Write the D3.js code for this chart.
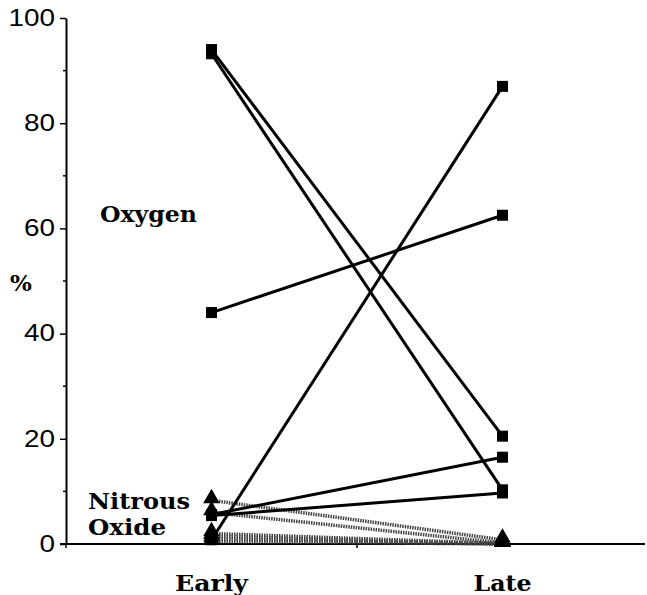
<!DOCTYPE html>
<html><head><meta charset="utf-8">
<script src="https://cdn.jsdelivr.net/npm/d3@7"></script>
<style>body{margin:0;background:#fff}svg{display:block}</style>
</head><body><svg id="c" width="647" height="595"></svg>
<script>
const categories = ["Early", "Late"];
const categoryPos = [1, 3];
const oxygenEarly = [94, 93.2, 44, 0.8, 5.6, 5.4];
const oxygenLate  = [20.5, 10.3, 62.5, 87, 16.5, 9.7];
const n2oEarly = [8.3, 6.0, 2.0, 1.5, 1.0, 0.5];
const n2oLate  = [0.8, 0.2, 0.1, 0, 0, 0];
const yTicks = [0, 20, 40, 60, 80, 100];
const yMinorTicks = [10, 30, 50, 70, 90];
const seriesLabels = {oxygen: "Oxygen", n2o: ["Nitrous", "Oxide"], y: "%"};

const svg = d3.select("#c");
const x = d3.scaleLinear().domain([0, 4]).range([66, 648]);
const y = d3.scaleLinear().domain([0, 100]).range([544, 18]);

// y axis
const yAxis = d3.axisLeft(y).tickValues(yTicks).tickSize(6).tickSizeOuter(0).tickPadding(5);
const gy = svg.append("g").attr("transform", `translate(${x(0)},0)`).call(yAxis);
gy.select(".domain").attr("stroke", "#000").attr("stroke-width", 2);
gy.selectAll(".tick line").attr("stroke", "#000").attr("stroke-width", 1.5);
gy.selectAll(".tick text").attr("font-family", "Liberation Sans, Arial, sans-serif").attr("font-size", 23)
  .attr("fill", "#000").attr("lengthAdjust", "spacingAndGlyphs")
  .attr("textLength", d => String(d).length * 15.5);
svg.append("g").selectAll("line").data(yMinorTicks).join("line")
  .attr("x1", x(0) - 3).attr("x2", x(0)).attr("y1", d => y(d)).attr("y2", d => y(d))
  .attr("stroke", "#000").attr("stroke-width", 1.5);

// x axis
svg.append("line").attr("x1", x(0) - 6).attr("x2", 645).attr("y1", y(0)).attr("y2", y(0))
  .attr("stroke", "#000").attr("stroke-width", 2);
svg.append("g").selectAll("line").data([2]).join("line")
  .attr("x1", d => x(d)).attr("x2", d => x(d)).attr("y1", y(0) - 3).attr("y2", y(0) + 4)
  .attr("stroke", "#000").attr("stroke-width", 1.5);
svg.append("line").attr("x1", x(0)).attr("x2", x(0)).attr("y1", y(0)).attr("y2", y(0) + 4)
  .attr("stroke", "#000").attr("stroke-width", 1.5);

const serif = "DejaVu Serif, serif";
const catW = [73, 58];
svg.append("g").selectAll("text").data(categories).join("text")
  .attr("x", (d, i) => x(categoryPos[i]) - catW[i] / 2).attr("y", 591)
  .attr("textLength", (d, i) => catW[i]).attr("lengthAdjust", "spacingAndGlyphs")
  .attr("font-family", serif).attr("font-weight", "bold").attr("font-size", 23).text(d => d);

// N2O lines (hatched grey)
const n2oG = svg.append("g");
n2oEarly.forEach((v, i) => {
  n2oG.append("line").attr("x1", x(categoryPos[0])).attr("y1", y(v))
    .attr("x2", x(categoryPos[1])).attr("y2", y(n2oLate[i]))
    .attr("stroke", "#444").attr("stroke-width", 3.5).attr("stroke-dasharray", "1.5,1");
});
// Oxygen lines
const oxG = svg.append("g");
oxygenEarly.forEach((v, i) => {
  oxG.append("line").attr("x1", x(categoryPos[0])).attr("y1", y(v))
    .attr("x2", x(categoryPos[1])).attr("y2", y(oxygenLate[i]))
    .attr("stroke", "#000").attr("stroke-width", 3);
});

// markers
const tri = d3.symbol().type(d3.symbolTriangle).size(120);
const tpts = [];
n2oEarly.forEach((v, i) => { tpts.push([categoryPos[0], v]); tpts.push([categoryPos[1], n2oLate[i]]); });
svg.append("g").selectAll("path").data(tpts).join("path")
  .attr("d", tri).attr("transform", d => `translate(${x(d[0])},${y(d[1]) - 2})`).attr("fill", "#000");
const sq = 11;
const pts = [];
oxygenEarly.forEach((v, i) => { pts.push([categoryPos[0], v]); pts.push([categoryPos[1], oxygenLate[i]]); });
svg.append("g").selectAll("rect").data(pts).join("rect")
  .attr("x", d => x(d[0]) - sq / 2).attr("y", d => y(d[1]) - sq / 2)
  .attr("width", sq).attr("height", sq).attr("fill", "#000");

// labels
function label(t, x0, y0, w) {
  svg.append("text").attr("x", x0).attr("y", y0).attr("font-family", serif).attr("font-weight", "bold")
    .attr("font-size", 22).attr("textLength", w).attr("lengthAdjust", "spacingAndGlyphs").text(t);
}
label(seriesLabels.oxygen, 100, 222, 97);
label(seriesLabels.n2o[0], 88, 509, 102);
label(seriesLabels.n2o[1], 88, 535, 78);
svg.append("text").attr("x", 10).attr("y", 291).attr("font-family", serif).attr("font-weight", "bold")
  .attr("font-size", 23).text(seriesLabels.y);
</script></body></html>
